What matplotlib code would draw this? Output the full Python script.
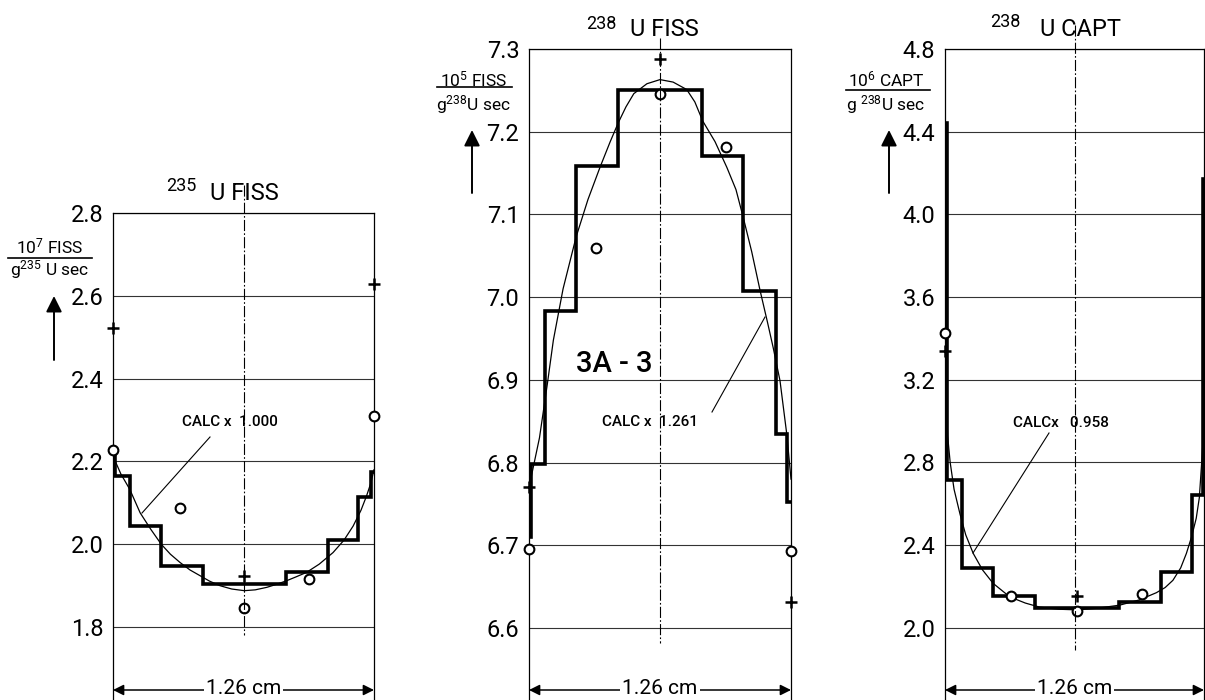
import matplotlib
matplotlib.use('Agg')
import matplotlib.pyplot as plt
from matplotlib.lines import Line2D

plt.rcParams['font.family'] = ['Roboto', 'DejaVu Sans']
plt.rcParams['mathtext.fontset'] = 'custom'
plt.rcParams['mathtext.rm'] = 'Roboto'
plt.rcParams['mathtext.it'] = 'Roboto:italic'
plt.rcParams['mathtext.bf'] = 'Roboto:bold'

# ---------------- data (x = fraction of the 1.26 cm width) ----------------
# 235U fission
edges_235 = [0.0, 0.009, 0.064, 0.185, 0.343, 0.662, 0.824, 0.939, 0.990, 1.0]
steps_235 = [2.22, 2.165, 2.044, 1.948, 1.904, 1.933, 2.01, 2.115, 2.174]
calc_x_235 = [0.0, 0.03, 0.064, 0.104, 0.145, 0.185, 0.22, 0.257, 0.295, 0.334, 0.37, 0.41, 0.455,
              0.503, 0.545, 0.589, 0.625, 0.665, 0.7, 0.741, 0.79, 0.843, 0.885, 0.92, 0.95, 0.971, 0.988, 1.0]
calc_y_235 = [2.213, 2.17, 2.133, 2.076, 2.036, 2.0, 1.976, 1.956, 1.938, 1.924, 1.911, 1.9, 1.892,
              1.888, 1.89, 1.896, 1.903, 1.912, 1.921, 1.932, 1.952, 1.98, 2.01, 2.044, 2.082, 2.116, 2.148, 2.18]
circ_x_235 = [0.0, 0.255, 0.503, 0.75, 1.0]
circ_y_235 = [2.227, 2.088, 1.847, 1.917, 2.311]
plus_x_235 = [0.0, 0.503, 1.0]
plus_y_235 = [2.522, 1.924, 2.629]
yticks_235 = [1.8, 2.0, 2.2, 2.4, 2.6, 2.8]
ylabels_235 = ['1.8', '2.0', '2.2', '2.4', '2.6', '2.8']

# 238U fission
edges_238f = [0.0, 0.006, 0.061, 0.178, 0.34, 0.662, 0.816, 0.942, 0.984, 1.0]
steps_238f = [6.71, 6.798, 6.983, 7.158, 7.251, 7.171, 7.008, 6.834, 6.752]
calc_x_238f = [0.0, 0.02, 0.04, 0.07, 0.093, 0.13, 0.18, 0.225, 0.271, 0.31, 0.341, 0.37, 0.4, 0.45,
               0.5, 0.55, 0.602, 0.633, 0.663, 0.71, 0.755, 0.79, 0.818, 0.85, 0.882, 0.91, 0.932,
               0.958, 0.984, 1.0]
calc_y_238f = [6.77, 6.8, 6.83, 6.895, 6.948, 7.01, 7.073, 7.118, 7.157, 7.188, 7.211, 7.23, 7.246, 7.258,
               7.263, 7.26, 7.251, 7.236, 7.213, 7.188, 7.157, 7.13, 7.096, 7.055, 7.008, 6.97, 6.939,
               6.899, 6.834, 6.78]
circ_x_238f = [0.0, 0.256, 0.5, 0.752, 1.0]
circ_y_238f = [6.696, 7.059, 7.245, 7.182, 6.693]
plus_x_238f = [0.0, 0.5, 1.0]
plus_y_238f = [6.771, 7.288, 6.631]
yticks_238f = [6.6, 6.7, 6.8, 6.9, 7.0, 7.1, 7.2, 7.3]
ylabels_238f = ['6.6', '6.7', '6.8', '6.9', '7.0', '7.1', '7.2', '7.3']

# 238U capture
edges_238c = [0.0, 0.006, 0.064, 0.186, 0.347, 0.672, 0.835, 0.954, 0.996, 1.0]
steps_238c = [4.44, 2.713, 2.289, 2.152, 2.097, 2.124, 2.269, 2.645, 4.17]
calc_x_238c = [0.0, 0.004, 0.01, 0.02, 0.035, 0.058, 0.08, 0.109, 0.145, 0.186, 0.25, 0.31, 0.366,
               0.44, 0.51, 0.59, 0.675, 0.75, 0.816, 0.85, 0.88, 0.91, 0.932, 0.952, 0.97, 0.982, 0.99, 0.996, 1.0]
calc_y_238c = [3.45, 3.15, 2.93, 2.8, 2.67, 2.55, 2.45, 2.36, 2.28, 2.215, 2.15, 2.12, 2.10,
               2.09, 2.087, 2.095, 2.11, 2.135, 2.17, 2.195, 2.23, 2.29, 2.36, 2.44, 2.53, 2.63, 2.78, 2.9, 3.0]
circ_x_238c = [0.0, 0.253, 0.511, 0.762]
circ_y_238c = [3.427, 2.153, 2.08, 2.165]
plus_x_238c = [0.0, 0.511]
plus_y_238c = [3.339, 2.153]
yticks_238c = [2.0, 2.4, 2.8, 3.2, 3.6, 4.0, 4.4, 4.8]
ylabels_238c = ['2.0', '2.4', '2.8', '3.2', '3.6', '4.0', '4.4', '4.8']

calc_labels = ['CALC x  1.000', 'CALC x  1.261', 'CALCx   0.958']
dim_label = '1.26 cm'

# ---------------- layout helpers ----------------
W, H = 1205, 700
fig = plt.figure(figsize=(W / 100, H / 100), dpi=100)
fig.patch.set_facecolor('white')


def fx(x):
    return x / W


def fy(y):
    return 1 - y / H


def fline(x0, y0, x1, y1, lw=1.0, **kw):
    fig.add_artist(Line2D([fx(x0), fx(x1)], [fy(y0), fy(y1)], color='black', lw=lw, **kw))


panels = [
    dict(box=(113, 374, 213), ylim=(1.624, 2.8), edges=edges_235, steps=steps_235,
         cx=calc_x_235, cy=calc_y_235, ox=circ_x_235, oy=circ_y_235,
         px=plus_x_235, py=plus_y_235, yt=yticks_235, yl=ylabels_235, cline=(185, 635)),
    dict(box=(529, 791, 49), ylim=(6.513, 7.3), edges=edges_238f, steps=steps_238f,
         cx=calc_x_238f, cy=calc_y_238f, ox=circ_x_238f, oy=circ_y_238f,
         px=plus_x_238f, py=plus_y_238f, yt=yticks_238f, yl=ylabels_238f, cline=(38, 643)),
    dict(box=(945, 1204, 49), ylim=(1.651, 4.8), edges=edges_238c, steps=steps_238c,
         cx=calc_x_238c, cy=calc_y_238c, ox=circ_x_238c, oy=circ_y_238c,
         px=plus_x_238c, py=plus_y_238c, yt=yticks_238c, yl=ylabels_238c, cline=(25, 650)),
]

axes = []
for p in panels:
    l, r, t = p['box']
    ax = fig.add_axes([fx(l), 0, (r - l) / W, (H - t) / H])
    ax.set_xlim(0, 1)
    ax.set_ylim(*p['ylim'])
    ax.set_yticks(p['yt'])
    ax.set_yticklabels(p['yl'])
    ax.set_xticks([])
    ax.tick_params(axis='y', length=0, pad=7, labelsize=17)
    ax.spines['bottom'].set_visible(False)
    for s in ['left', 'right', 'top']:
        ax.spines[s].set_linewidth(0.9)
    for yv in p['yt']:
        ax.axhline(yv, color='#333333', lw=0.8, zorder=1)
    ax.stairs(p['steps'], p['edges'], baseline=None, color='black', lw=2.6, zorder=3)
    ax.plot(p['cx'], p['cy'], color='black', lw=0.9, zorder=4)
    ax.plot(p['ox'], p['oy'], 'o', mfc='white', mec='black', ms=7, mew=1.5,
            clip_on=False, zorder=6)
    ax.plot(p['px'], p['py'], '+', color='black', ms=9, mew=1.8, clip_on=False, zorder=6)
    # center dash-dot line
    cx = (l + r) / 2
    fline(cx, p['cline'][0], cx, p['cline'][1], lw=0.8, linestyle=(0, (10, 2, 1.5, 2)))
    # dimension arrow
    ax.annotate('', xy=(1, 10), xytext=(0, 10), xycoords=('axes fraction', 'figure pixels'),
                arrowprops=dict(arrowstyle='<|-|>', lw=1.1, color='black',
                                mutation_scale=16, shrinkA=0, shrinkB=0),
                annotation_clip=False)
    fig.text(fx(cx), fy(688), dim_label, ha='center', va='center', fontsize=15,
             bbox=dict(fc='white', ec='none', pad=1.5), zorder=10)
    axes.append(ax)

# ---------------- titles ----------------
fig.text(fx(181), fy(186), '235', ha='center', va='center', fontsize=13)
fig.text(fx(244), fy(193), 'U FISS', ha='center', va='center', fontsize=17)
fig.text(fx(601), fy(24), '238', ha='center', va='center', fontsize=13)
fig.text(fx(664), fy(30), 'U FISS', ha='center', va='center', fontsize=17)
fig.text(fx(1005), fy(22), '238', ha='center', va='center', fontsize=13)
fig.text(fx(1080), fy(30), 'U CAPT', ha='center', va='center', fontsize=17)

# ---------------- y-axis unit labels ----------------
ylab = [
    (50, 246, 270, 258, 8, 92, r'$10^{7}$ FISS', r'g$^{235}$ U sec', 54, 360, 296),
    (474, 79, 105, 87, 437, 512, r'$10^{5}$ FISS', r'g$^{238}$U sec', 472, 193, 130),
    (886, 79, 105, 90, 846, 930, r'$10^{6}$ CAPT', r'g $^{238}$U sec', 889, 193, 130),
]
for (xc, yt, yb, yline, x0, x1, top, bot, ax_x, ay0, ay1) in ylab:
    fig.text(fx(xc), fy(yt), top, ha='center', va='center', fontsize=12.5)
    fig.text(fx(xc), fy(yb), bot, ha='center', va='center', fontsize=12.5)
    fline(x0, yline, x1, yline, lw=1.2)
    axes[0].annotate('', xy=(ax_x, H - ay1), xytext=(ax_x, H - ay0), xycoords='figure pixels',
                     arrowprops=dict(arrowstyle='-|>', lw=1.4, color='black',
                                     mutation_scale=24, shrinkA=0, shrinkB=0),
                     annotation_clip=False)

# ---------------- CALC annotations ----------------
fig.text(fx(182), fy(422), calc_labels[0], ha='left', va='center', fontsize=11, fontweight='medium')
fline(210, 437, 142, 513, lw=0.8)
fig.text(fx(602), fy(422), calc_labels[1], ha='left', va='center', fontsize=11, fontweight='medium')
fline(712, 412, 765, 317, lw=0.8)
fig.text(fx(1013), fy(423), calc_labels[2], ha='left', va='center', fontsize=11, fontweight='medium')
fline(1049, 433, 973, 553, lw=0.8)

# run label
fig.text(fx(614), fy(364), '3A - 3', ha='center', va='center', fontsize=21, fontweight='medium')

fig.savefig('out.png', dpi=100, facecolor='white')
